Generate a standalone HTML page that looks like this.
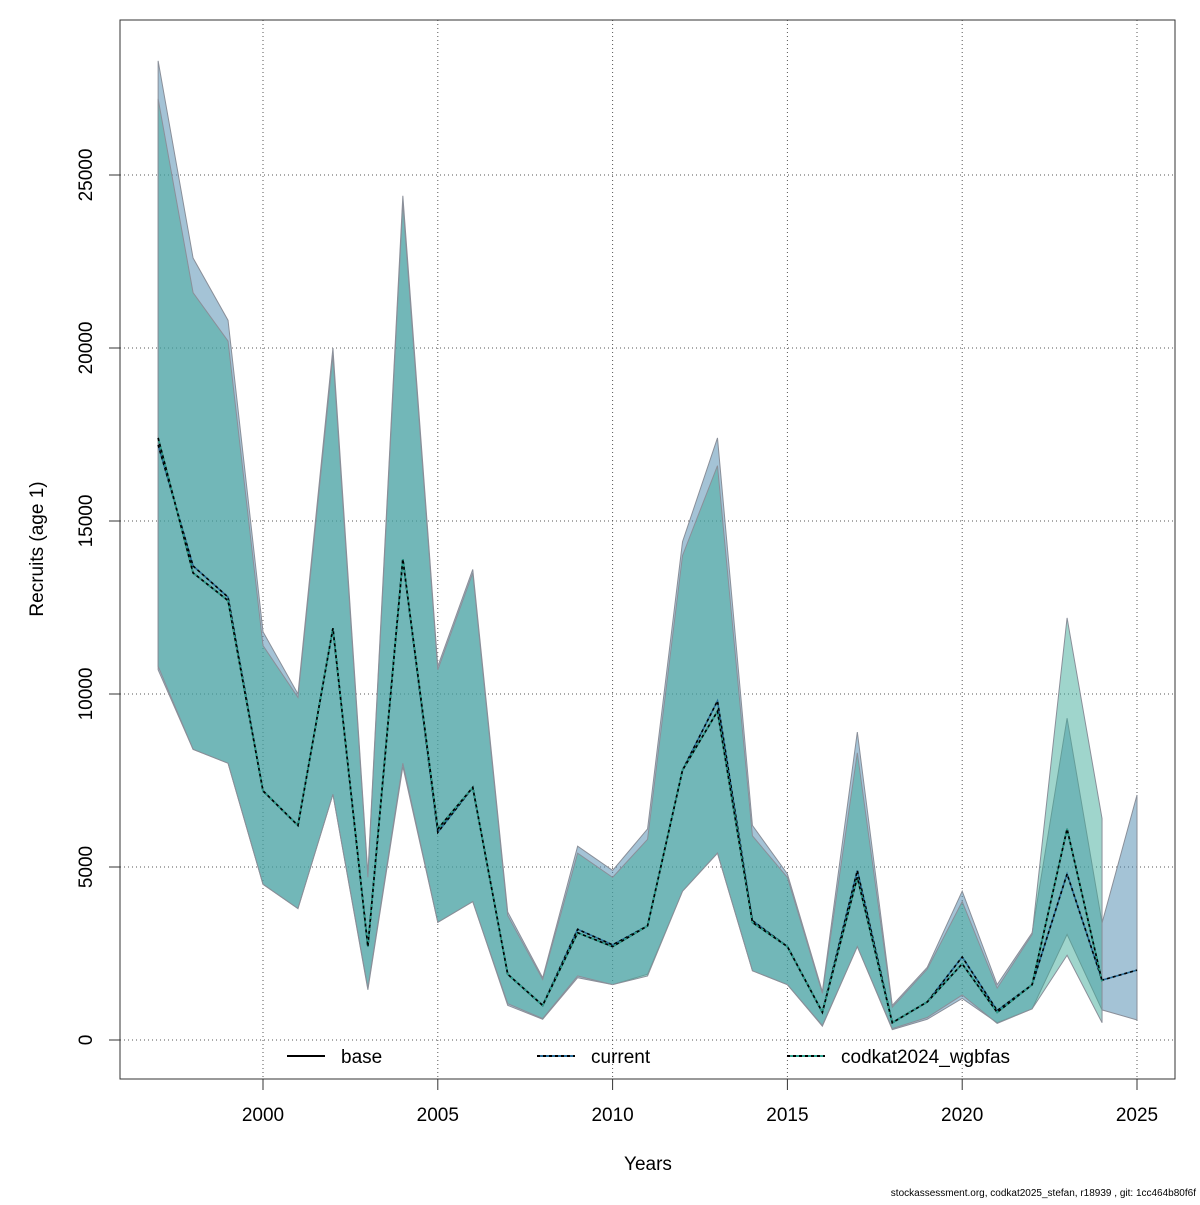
<!DOCTYPE html>
<html><head><meta charset="utf-8"><style>
body{margin:0;background:#fff;}
svg text{font-family:"Liberation Sans",Arial,sans-serif;}
</style></head><body>
<svg id="chart" width="1200" height="1200" xmlns="http://www.w3.org/2000/svg">
<g id="grid"></g>
<g id="bands"></g>
<g id="lines"></g>
<rect x="120" y="20" width="1055" height="1059" fill="none" stroke="#333" stroke-width="1"/>
<g id="axes"></g>
<text x="648" y="1170" font-size="19" text-anchor="middle">Years</text>
<text transform="translate(43,549) rotate(-90)" font-size="19" text-anchor="middle">Recruits (age 1)</text>
<text x="1196" y="1196" font-size="10" text-anchor="end">stockassessment.org, codkat2025_stefan, r18939 , git: 1cc464b80f6f</text>
<g>
<g><line x1="287" y1="1056" x2="325" y2="1056" stroke="#000" stroke-width="2"/><text x="341" y="1063" font-size="19">base</text></g>
<g><line x1="537" y1="1056" x2="575" y2="1056" stroke="#2a6f9a" stroke-width="2"/><line x1="537" y1="1056" x2="575" y2="1056" stroke="#000" stroke-width="2" stroke-dasharray="3,3"/><text x="591" y="1063" font-size="19">current</text></g>
<g><line x1="787" y1="1056" x2="825" y2="1056" stroke="#2fa28f" stroke-width="2"/><line x1="787" y1="1056" x2="825" y2="1056" stroke="#000" stroke-width="2" stroke-dasharray="3,3"/><text x="841" y="1063" font-size="19">codkat2024_wgbfas</text></g>
</g>
</svg>
<script>
const years=[1997,1998,1999,2000,2001,2002,2003,2004,2005,2006,2007,2008,2009,2010,2011,2012,2013,2014,2015,2016,2017,2018,2019,2020,2021,2022,2023,2024,2025];
const baseVals=[17400,13500,12700,7200,6200,11900,2700,13900,6100,7300,1900,1000,3100,2700,3300,7800,9500,3400,2700,800,4700,500,1100,2200,800,1600,6100,1700];
const currentVals=[17200,13700,12800,7200,6200,11900,2700,13900,6000,7300,1900,1000,3200,2750,3300,7800,9800,3450,2700,800,4900,500,1100,2400,850,1600,4800,1730,2020];
const currentHi=[28300,22600,20800,11800,10000,20000,4800,24400,10800,13600,3700,1800,5600,4900,6100,14400,17400,6200,4800,1400,8900,1000,2100,4300,1600,3100,9300,3380,7080];
const currentLo=[10700,8400,8000,4500,3800,7100,1450,7900,3400,4000,1000,600,1800,1600,1900,4300,5400,2000,1600,400,2700,300,600,1200,500,900,3050,870,580];
const codkatVals=[17400,13500,12700,7200,6200,11900,2700,13900,6100,7300,1900,1000,3100,2700,3300,7800,9500,3400,2700,800,4700,500,1100,2200,800,1600,6100,1700];
const codkatHi=[27200,21600,20200,11400,9900,19800,4700,24200,10700,13500,3600,1750,5400,4700,5800,14000,16600,5900,4700,1350,8300,950,2050,4000,1500,3050,12200,6400];
const codkatLo=[10800,8400,8000,4500,3800,7100,1500,8000,3400,4000,1050,620,1850,1600,1850,4300,5400,2000,1600,420,2700,330,650,1300,480,900,2450,500];
const xTicks=[2000,2005,2010,2015,2020,2025];
const yTicks=[0,5000,10000,15000,20000,25000];
const NS="http://www.w3.org/2000/svg";
const X=y=>263+(y-2000)*34.96;
const Y=v=>1040-v*0.0346;
function mk(tag,attrs,parent){const e=document.createElementNS(NS,tag);for(const k in attrs)e.setAttribute(k,attrs[k]);parent.appendChild(e);return e;}
const grid=document.getElementById('grid'),axes=document.getElementById('axes'),bands=document.getElementById('bands'),lines=document.getElementById('lines');
xTicks.forEach(t=>{
 const g=mk('line',{x1:X(t),x2:X(t),y1:20,y2:1079,stroke:'#555','stroke-dasharray':'1,3'},grid);
 
 
 const tk=mk('line',{x1:X(t),x2:X(t),y1:1079,y2:1090,stroke:'#333'},axes);
 
 
 const tx=mk('text',{x:X(t),y:1121,'font-size':19,'text-anchor':'middle'},axes);tx.textContent=t;
 
 
});
yTicks.forEach(t=>{
 const g=mk('line',{x1:120,x2:1175,y1:Y(t),y2:Y(t),stroke:'#555','stroke-dasharray':'1,3'},grid);
 
 
 const tk=mk('line',{x1:109,x2:120,y1:Y(t),y2:Y(t),stroke:'#333'},axes);
 
 
 const tx=mk('text',{transform:`translate(92,${Y(t)}) rotate(-90)`,'font-size':19,'text-anchor':'middle'},axes);tx.textContent=t;
 
 
});
function band(hi,lo,fill,name){
 const n=Math.min(hi.length,lo.length);let pts=[];
 for(let i=0;i<n;i++)pts.push(X(years[i])+','+Y(hi[i]));
 for(let i=n-1;i>=0;i--)pts.push(X(years[i])+','+Y(lo[i]));
 const p=mk('polygon',{points:pts.join(' '),fill:fill,'fill-opacity':0.5,stroke:'#8a8f99','stroke-width':1},bands);
 
 
}
band(currentHi,currentLo,'#4a87ad','current-confidence-band');
band(codkatHi,codkatLo,'#3fac99','codkat2024-confidence-band');
function line(vals,stroke,dash,name){
 const pts=vals.map((v,i)=>X(years[i])+','+Y(v)).join(' ');
 const a={points:pts,fill:'none',stroke:stroke,'stroke-width':1.6};if(dash)a['stroke-dasharray']=dash;
 const p=mk('polyline',a,lines);
 
 
}
line(baseVals,'#000',null,'base-line');
line(currentVals,'#2a6f9a',null,'current-line');
line(currentVals,'#000','3,3','current-line-dashes');
line(codkatVals,'#2fa28f',null,'codkat2024-line');
line(codkatVals,'#000','3,3','codkat2024-line-dashes');
</script>
</body></html>
